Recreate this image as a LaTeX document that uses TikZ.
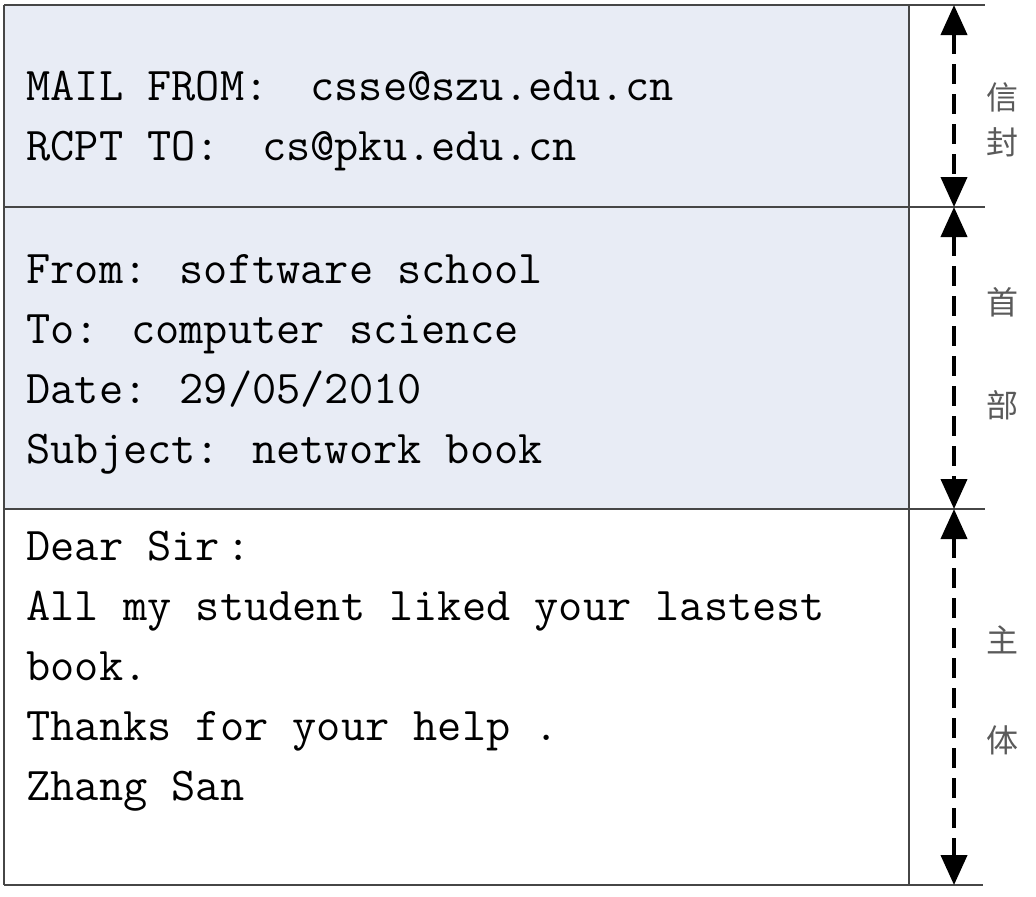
\documentclass[tikz,border=0pt]{standalone}
\usepackage{fontspec}
\newfontfamily\cjk{Noto Sans CJK SC}
\usetikzlibrary{arrows.meta}
\definecolor{headfill}{RGB}{232,236,245}
\definecolor{rulegray}{RGB}{70,70,70}
\definecolor{labelgray}{RGB}{90,90,90}
\tikzset{
  rule/.style={rulegray,line width=1pt},
  mailtext/.style={anchor=base west,inner sep=0pt,font=\ttfamily\fontsize{23.5}{30}\selectfont},
  partlabel/.style={labelgray,inner sep=0pt,font=\cjk\fontsize{16}{16}\selectfont},
  spanarrow/.style={black,line width=2pt,dash pattern=on 10pt off 5pt,<->},
}
\newcommand{\widecolon}{:\hspace{21pt}}
\begin{document}
\begin{tikzpicture}[x=0.5pt,y=-0.5pt,>={Triangle[width=13pt,length=15pt]},line join=bevel]
\useasboundingbox (0,0) rectangle (1036,896);
%%
  \fill [headfill] (4,5) rectangle (909,509);
  \draw [rule] (4,5) -- (985,5);
  \draw [rule] (4,207) -- (985,207);
  \draw [rule] (4,509) -- (985,509);
  \draw [rule] (4,885) -- (983,885);
  \draw [rule] (4,5) -- (4,885);
  \draw [rule] (909,5) -- (909,885);

  \coordinate (env_top) at (954,5);
  \coordinate (env_bot) at (954,207);
  \coordinate (head_bot) at (954,509);
  \coordinate (body_bot) at (954,885);

  \draw [spanarrow] (env_top) -- (env_bot);
  \draw [spanarrow] (env_bot) -- (head_bot);
  \draw [spanarrow] (head_bot) -- (body_bot);
%
  \node (env_0) at (26,100) [mailtext] {MAIL FROM\widecolon csse@szu.edu.cn};
  \node (env_1) at (26,160) [mailtext] {RCPT TO\widecolon cs@pku.edu.cn};

  \node (head_0) at (26,283) [mailtext] {From: software school};
  \node (head_1) at (26,343) [mailtext] {To: computer science};
  \node (head_2) at (26,403) [mailtext] {Date: 29/05/2010};
  \node (head_3) at (26,463) [mailtext] {Subject: network book};

  \node (body_0) at (26,560) [mailtext] {Dear Sir\hspace{3pt}:};
  \node (body_1) at (26,620) [mailtext] {All my student liked your lastest};
  \node (body_2) at (26,680) [mailtext] {book.};
  \node (body_3) at (26,740) [mailtext] {Thanks for your help .};
  \node (body_4) at (26,800) [mailtext] {Zhang San};
%
  \node (env_lab_0) at (1002,97) [partlabel] {信};
  \node (env_lab_1) at (1002,142) [partlabel] {封};
  \node (head_lab_0) at (1002,302) [partlabel] {首};
  \node (head_lab_1) at (1002,405) [partlabel] {部};
  \node (body_lab_0) at (1002,640) [partlabel] {主};
  \node (body_lab_1) at (1002,740) [partlabel] {体};
%
\end{tikzpicture}
\end{document}
